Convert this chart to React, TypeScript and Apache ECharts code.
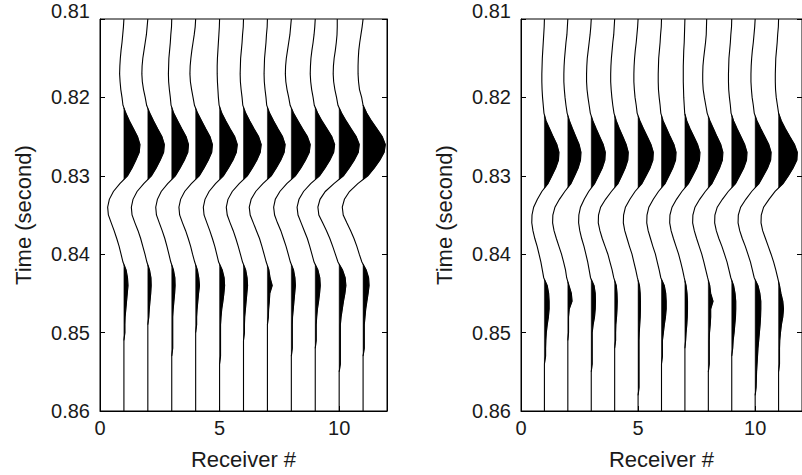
import React, { useEffect, useRef } from "react";
import * as echarts from "echarts";

// Time samples (seconds), 1 ms apart
const timeSamples = [
  0.810, 0.811, 0.812, 0.813, 0.814, 0.815, 0.816, 0.817, 0.818, 0.819,
  0.820, 0.821, 0.822, 0.823, 0.824, 0.825, 0.826, 0.827, 0.828, 0.829,
  0.830, 0.831, 0.832, 0.833, 0.834, 0.835, 0.836, 0.837, 0.838, 0.839,
  0.840, 0.841, 0.842, 0.843, 0.844, 0.845, 0.846, 0.847, 0.848, 0.849,
  0.850, 0.851, 0.852, 0.853, 0.854, 0.855, 0.856, 0.857, 0.858, 0.859,
  0.860,
];

const receivers = [1, 2, 3, 4, 5, 6, 7, 8, 9, 10, 11];
const timeTicks = [0.81, 0.82, 0.83, 0.84, 0.85, 0.86];
const receiverTicks = [0, 5, 10];

// ---- Left panel: trace amplitudes (in receiver units) ----
const left1 = [0, -0.02, -0.05, -0.08, -0.12, -0.15, -0.17, -0.18, -0.16, -0.13, -0.08, -0.04, 0.08, 0.23, 0.40, 0.57, 0.67, 0.64, 0.50, 0.34, 0.15, -0.17, -0.44, -0.61, -0.68, -0.65, -0.53, -0.41, -0.30, -0.20, -0.12, -0.04, 0.09, 0.15, 0.17, 0.14, 0.11, 0.08, 0.05, 0.04, 0.04, 0, 0, 0, 0, 0, 0, 0, 0, 0, 0];
const left2 = [0, -0.03, -0.06, -0.11, -0.16, -0.21, -0.24, -0.25, -0.23, -0.18, -0.11, -0.05, 0.08, 0.24, 0.41, 0.59, 0.69, 0.66, 0.52, 0.35, 0.15, -0.17, -0.45, -0.62, -0.69, -0.66, -0.54, -0.41, -0.30, -0.21, -0.12, -0.04, 0.07, 0.13, 0.14, 0.12, 0.09, 0.06, 0.04, 0, 0, 0, 0, 0, 0, 0, 0, 0, 0, 0, 0];
const left3 = [0, -0.01, -0.04, -0.06, -0.09, -0.12, -0.13, -0.14, -0.13, -0.10, -0.06, -0.03, 0.08, 0.25, 0.42, 0.60, 0.70, 0.67, 0.53, 0.35, 0.15, -0.17, -0.44, -0.60, -0.67, -0.64, -0.52, -0.40, -0.29, -0.20, -0.12, -0.04, 0.07, 0.13, 0.14, 0.12, 0.09, 0.06, 0.04, 0.04, 0.04, 0.04, 0.04, 0, 0, 0, 0, 0, 0, 0, 0];
const left4 = [0, -0.02, -0.06, -0.11, -0.16, -0.20, -0.23, -0.24, -0.22, -0.17, -0.11, -0.05, 0.08, 0.25, 0.42, 0.60, 0.70, 0.67, 0.53, 0.35, 0.15, -0.18, -0.46, -0.63, -0.70, -0.67, -0.55, -0.42, -0.31, -0.21, -0.13, -0.04, 0.07, 0.13, 0.16, 0.12, 0.09, 0.06, 0.04, 0.04, 0, 0, 0, 0, 0, 0, 0, 0, 0, 0, 0];
const left5 = [0, -0.01, -0.03, -0.05, -0.07, -0.09, -0.10, -0.10, -0.09, -0.07, -0.05, -0.02, 0.09, 0.26, 0.44, 0.63, 0.74, 0.70, 0.56, 0.37, 0.16, -0.17, -0.44, -0.61, -0.68, -0.65, -0.53, -0.41, -0.30, -0.20, -0.12, -0.04, 0.11, 0.19, 0.21, 0.18, 0.14, 0.09, 0.06, 0.04, 0.04, 0.04, 0.04, 0.04, 0, 0, 0, 0, 0, 0, 0];
const left6 = [0, -0.01, -0.04, -0.06, -0.09, -0.12, -0.13, -0.14, -0.13, -0.10, -0.06, -0.03, 0.09, 0.26, 0.44, 0.63, 0.74, 0.70, 0.56, 0.37, 0.16, -0.18, -0.47, -0.65, -0.72, -0.68, -0.56, -0.43, -0.32, -0.22, -0.13, -0.04, 0.09, 0.15, 0.17, 0.14, 0.11, 0.08, 0.05, 0.04, 0.04, 0, 0, 0, 0, 0, 0, 0, 0, 0, 0];
const left7 = [0, -0.01, -0.04, -0.06, -0.09, -0.12, -0.13, -0.14, -0.13, -0.10, -0.06, -0.03, 0.09, 0.26, 0.44, 0.63, 0.74, 0.70, 0.56, 0.37, 0.16, -0.19, -0.49, -0.68, -0.76, -0.72, -0.59, -0.46, -0.33, -0.23, -0.14, -0.05, 0.06, 0.11, 0.20, 0.10, 0.08, 0.05, 0.04, 0, 0, 0, 0, 0, 0, 0, 0, 0, 0, 0, 0];
const left8 = [0, -0.03, -0.06, -0.11, -0.16, -0.21, -0.24, -0.25, -0.23, -0.18, -0.11, -0.05, 0.09, 0.28, 0.47, 0.67, 0.79, 0.75, 0.59, 0.40, 0.17, -0.19, -0.48, -0.67, -0.74, -0.70, -0.58, -0.44, -0.33, -0.22, -0.13, -0.04, 0.09, 0.15, 0.17, 0.14, 0.11, 0.08, 0.05, 0.04, 0.04, 0.04, 0.04, 0, 0, 0, 0, 0, 0, 0, 0];
const left9 = [0, -0.02, -0.05, -0.09, -0.14, -0.18, -0.20, -0.21, -0.19, -0.15, -0.09, -0.04, 0.10, 0.28, 0.49, 0.69, 0.81, 0.77, 0.61, 0.41, 0.18, -0.19, -0.49, -0.68, -0.76, -0.72, -0.59, -0.46, -0.33, -0.23, -0.14, -0.05, 0.11, 0.19, 0.21, 0.18, 0.14, 0.09, 0.06, 0.04, 0.04, 0.04, 0, 0, 0, 0, 0, 0, 0, 0, 0];
const left10 = [-0.08, -0.08, -0.09, -0.12, -0.16, -0.21, -0.24, -0.25, -0.23, -0.18, -0.11, -0.05, 0.10, 0.29, 0.50, 0.71, 0.84, 0.80, 0.63, 0.42, 0.18, -0.22, -0.58, -0.80, -0.89, -0.85, -0.69, -0.53, -0.39, -0.27, -0.16, -0.05, 0.14, 0.25, 0.28, 0.24, 0.18, 0.13, 0.08, 0.05, 0.05, 0.05, 0.05, 0.05, 0.05, 0, 0, 0, 0, 0, 0];
const left11 = [0, -0.04, -0.09, -0.14, -0.18, -0.20, -0.21, -0.21, -0.19, -0.15, -0.06, 0.00, 0.15, 0.35, 0.58, 0.80, 0.93, 0.88, 0.70, 0.47, 0.20, -0.22, -0.57, -0.78, -0.87, -0.83, -0.68, -0.52, -0.38, -0.26, -0.16, -0.05, 0.13, 0.23, 0.25, 0.21, 0.16, 0.11, 0.08, 0.05, 0.05, 0.05, 0.05, 0, 0, 0, 0, 0, 0, 0, 0];

// ---- Right panel: trace amplitudes (in receiver units) ----
const right1 = [0, -0.01, -0.03, -0.05, -0.07, -0.09, -0.10, -0.11, -0.11, -0.10, -0.08, -0.05, -0.02, 0.07, 0.22, 0.37, 0.53, 0.62, 0.60, 0.48, 0.32, 0.15, -0.11, -0.30, -0.46, -0.53, -0.54, -0.49, -0.41, -0.31, -0.23, -0.15, -0.09, -0.03, 0.12, 0.18, 0.20, 0.20, 0.17, 0.12, 0.08, 0.06, 0.05, 0.05, 0, 0, 0, 0, 0, 0, 0];
const right2 = [0, -0.02, -0.04, -0.08, -0.11, -0.14, -0.16, -0.17, -0.17, -0.15, -0.12, -0.08, -0.03, 0.07, 0.20, 0.34, 0.48, 0.56, 0.54, 0.44, 0.29, 0.13, -0.13, -0.36, -0.55, -0.64, -0.65, -0.59, -0.49, -0.38, -0.27, -0.18, -0.10, -0.05, 0.05, 0.15, 0.18, 0.06, 0.03, 0.03, 0.03, 0, 0, 0, 0, 0, 0, 0, 0, 0, 0];
const right3 = [0, -0.02, -0.05, -0.09, -0.13, -0.17, -0.19, -0.20, -0.20, -0.18, -0.14, -0.09, -0.04, 0.07, 0.21, 0.36, 0.51, 0.60, 0.58, 0.47, 0.31, 0.14, -0.11, -0.30, -0.46, -0.53, -0.54, -0.49, -0.41, -0.31, -0.23, -0.15, -0.09, -0.03, 0.12, 0.17, 0.18, 0.17, 0.14, 0.08, 0.04, 0.04, 0.04, 0.04, 0.04, 0, 0, 0, 0, 0, 0];
const right4 = [0, -0.02, -0.04, -0.08, -0.11, -0.14, -0.16, -0.17, -0.17, -0.15, -0.12, -0.08, -0.03, 0.07, 0.20, 0.35, 0.49, 0.58, 0.56, 0.45, 0.30, 0.14, -0.14, -0.39, -0.60, -0.69, -0.70, -0.63, -0.53, -0.41, -0.29, -0.20, -0.11, -0.04, 0.07, 0.10, 0.11, 0.10, 0.08, 0.05, 0.04, 0.04, 0, 0, 0, 0, 0, 0, 0, 0, 0];
const right5 = [0, -0.02, -0.05, -0.08, -0.12, -0.15, -0.17, -0.18, -0.18, -0.16, -0.13, -0.08, -0.04, 0.08, 0.23, 0.39, 0.55, 0.65, 0.63, 0.51, 0.34, 0.16, -0.13, -0.35, -0.54, -0.62, -0.63, -0.57, -0.47, -0.37, -0.26, -0.18, -0.10, -0.03, 0.06, 0.09, 0.10, 0.10, 0.09, 0.07, 0.05, 0.04, 0.04, 0.04, 0.04, 0.04, 0.04, 0.04, 0, 0, 0];
const right6 = [0, -0.01, -0.04, -0.06, -0.09, -0.12, -0.13, -0.14, -0.14, -0.13, -0.10, -0.06, -0.03, 0.07, 0.22, 0.37, 0.53, 0.62, 0.60, 0.48, 0.32, 0.15, -0.13, -0.35, -0.54, -0.62, -0.63, -0.57, -0.47, -0.37, -0.26, -0.18, -0.10, -0.03, 0.12, 0.18, 0.20, 0.20, 0.17, 0.12, 0.08, 0.04, 0.04, 0.04, 0, 0, 0, 0, 0, 0, 0];
const right7 = [0, -0.01, -0.02, -0.03, -0.05, -0.06, -0.07, -0.07, -0.07, -0.06, -0.05, -0.03, -0.01, 0.08, 0.22, 0.38, 0.54, 0.64, 0.62, 0.50, 0.33, 0.15, -0.13, -0.36, -0.55, -0.64, -0.65, -0.59, -0.49, -0.38, -0.27, -0.18, -0.10, -0.03, 0.05, 0.09, 0.11, 0.11, 0.10, 0.08, 0.05, 0.03, 0, 0, 0, 0, 0, 0, 0, 0, 0];
const right8 = [-0.07, -0.08, -0.09, -0.12, -0.16, -0.20, -0.23, -0.24, -0.24, -0.22, -0.17, -0.11, -0.05, 0.07, 0.22, 0.37, 0.53, 0.62, 0.60, 0.48, 0.32, 0.15, -0.13, -0.37, -0.57, -0.66, -0.67, -0.60, -0.50, -0.39, -0.28, -0.19, -0.11, -0.03, 0.06, 0.10, 0.20, 0.10, 0.10, 0.08, 0.05, 0.04, 0.04, 0.04, 0.04, 0, 0, 0, 0, 0, 0];
const right9 = [0, -0.01, -0.04, -0.06, -0.09, -0.12, -0.13, -0.14, -0.14, -0.13, -0.10, -0.06, -0.03, 0.08, 0.23, 0.39, 0.55, 0.65, 0.63, 0.51, 0.34, 0.16, -0.15, -0.40, -0.62, -0.72, -0.73, -0.66, -0.55, -0.42, -0.31, -0.20, -0.12, -0.04, 0.08, 0.14, 0.17, 0.17, 0.16, 0.13, 0.10, 0.06, 0.04, 0, 0, 0, 0, 0, 0, 0, 0];
const right10 = [0, -0.02, -0.05, -0.08, -0.12, -0.15, -0.17, -0.18, -0.18, -0.16, -0.13, -0.08, -0.04, 0.08, 0.24, 0.41, 0.58, 0.68, 0.66, 0.53, 0.35, 0.16, -0.15, -0.40, -0.62, -0.72, -0.73, -0.66, -0.55, -0.42, -0.31, -0.20, -0.12, -0.04, 0.12, 0.20, 0.24, 0.24, 0.23, 0.21, 0.18, 0.15, 0.12, 0.10, 0.08, 0.06, 0.05, 0.04, 0, 0, 0];
const right11 = [0, -0.01, -0.04, -0.06, -0.09, -0.12, -0.13, -0.14, -0.14, -0.13, -0.10, -0.05, 0.00, 0.12, 0.29, 0.48, 0.68, 0.80, 0.78, 0.62, 0.42, 0.19, -0.15, -0.41, -0.64, -0.74, -0.75, -0.68, -0.56, -0.44, -0.32, -0.21, -0.12, -0.04, 0.04, 0.10, 0.18, 0.21, 0.18, 0.12, 0.08, 0.05, 0.04, 0.04, 0.04, 0, 0, 0, 0, 0, 0];

const leftTraces = [left1, left2, left3, left4, left5, left6, left7, left8, left9, left10, left11];
const rightTraces = [right1, right2, right3, right4, right5, right6, right7, right8, right9, right10, right11];

const FONT = '"Liberation Sans", Arial, Helvetica, sans-serif';
const TEXT = "#1a1a1a";

function wiggleSeries(gridIndex: number, traces: number[][]) {
  return {
    type: "custom",
    xAxisIndex: gridIndex,
    yAxisIndex: gridIndex * 2,
    clip: true,
    silent: true,
    data: receivers.map((r) => [r, 0.835]),
    renderItem: (params: any, api: any) => {
      const i = params.dataIndex;
      const r = receivers[i];
      const amps = traces[i];
      const n = Math.min(amps.length, timeSamples.length);
      const pts: number[][] = [];
      for (let k = 0; k < n; k++) pts.push(api.coord([r + amps[k], timeSamples[k]]));
      const children: any[] = [];
      let run: number[][] | null = null;
      for (let k = 0; k < n; k++) {
        const a = amps[k];
        if (a > 0) {
          if (!run) {
            let t0 = timeSamples[k];
            if (k > 0) {
              const a0 = amps[k - 1];
              t0 = timeSamples[k - 1] + ((timeSamples[k] - timeSamples[k - 1]) * -a0) / (a - a0);
            }
            run = [api.coord([r, t0])];
          }
          run.push(pts[k]);
        } else if (run) {
          const a0 = amps[k - 1];
          const t1 = timeSamples[k - 1] + ((timeSamples[k] - timeSamples[k - 1]) * a0) / (a0 - a);
          run.push(api.coord([r, t1]));
          children.push({ type: "polygon", shape: { points: run }, style: { fill: "#000", stroke: "#000", lineWidth: 0.5 } });
          run = null;
        }
      }
      if (run) {
        run.push(api.coord([r, timeSamples[n - 1]]));
        children.push({ type: "polygon", shape: { points: run }, style: { fill: "#000" } });
      }
      children.push({
        type: "polyline",
        shape: { points: pts },
        style: { stroke: "#000", lineWidth: 1.1, fill: null },
      });
      return { type: "group", children };
    },
  };
}

function xAxisFor(g: number) {
  return {
    gridIndex: g,
    type: "value",
    min: receiverTicks[0],
    max: 12,
    interval: receiverTicks[1] - receiverTicks[0],
    axisLine: { show: true, onZero: false, lineStyle: { color: "#000", width: 1 } },
    axisTick: { show: true, inside: true, length: 5, lineStyle: { color: "#000" } },
    axisLabel: { show: true, showMaxLabel: false, margin: 7, color: TEXT, fontSize: 20, fontFamily: FONT },
    splitLine: { show: false },
    name: "Receiver #",
    nameLocation: "middle",
    nameGap: 37,
    nameTextStyle: { color: TEXT, fontSize: 22, fontFamily: FONT },
  };
}

function yAxesFor(g: number) {
  const base = {
    gridIndex: g,
    type: "value",
    inverse: true,
    min: timeTicks[0],
    max: timeTicks[timeTicks.length - 1],
    interval: 0.01,
    splitLine: { show: false },
    axisLine: { show: true, onZero: false, lineStyle: { color: "#000", width: 1 } },
    axisTick: { show: true, inside: true, length: 5, lineStyle: { color: "#000" } },
  };
  return [
    {
      ...base,
      position: "left",
      axisLabel: {
        show: true,
        margin: 10,
        color: TEXT,
        fontSize: 20,
        fontFamily: FONT,
        formatter: (v: number) =>
          Math.abs(v - timeTicks[0]) < 1e-9 ? "{top|" + v.toFixed(2) + "}" : v.toFixed(2),
        rich: {
          top: { color: TEXT, fontSize: 20, fontFamily: FONT, padding: [0, 0, 16, 0] },
        },
      },
      name: "Time (second)",
      nameLocation: "middle",
      nameGap: 66,
      nameRotate: 90,
      nameTextStyle: { color: TEXT, fontSize: 22, fontFamily: FONT },
    },
    {
      ...base,
      position: "right",
      axisLabel: { show: false },
    },
  ];
}

export default function App() {
  const ref = useRef<HTMLDivElement>(null);
  useEffect(() => {
    if (!ref.current) return;
    const chart = echarts.init(ref.current, null, { renderer: "svg" });
    chart.setOption({
      animation: false,
      backgroundColor: "#fff",
      grid: [
        { left: 100, top: 19, width: 287, height: 395, show: true, borderColor: "#000", borderWidth: 1, containLabel: false },
        { left: 521, top: 19, width: 287, height: 396, show: true, borderColor: "#000", borderWidth: 1, containLabel: false },
      ],
      xAxis: [xAxisFor(0), xAxisFor(1)],
      yAxis: [...yAxesFor(0), ...yAxesFor(1)],
      series: [wiggleSeries(0, leftTraces), wiggleSeries(1, rightTraces)],
    });
    return () => chart.dispose();
  }, []);
  return (
    <div
      ref={ref}
      style={{ position: "fixed", left: 0, top: 0, width: 802, height: 475, background: "#fff" }}
    />
  );
}
